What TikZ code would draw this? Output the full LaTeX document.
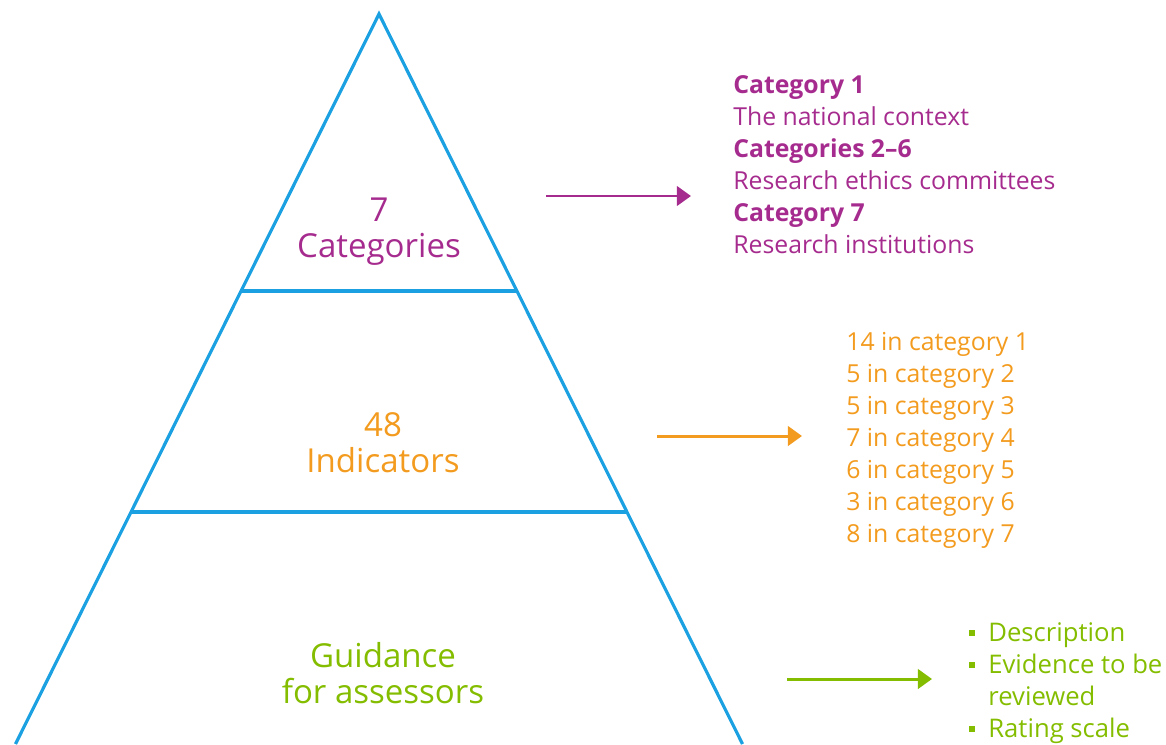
\documentclass[tikz,border=0pt]{standalone}
\usepackage{fontspec}
\setmainfont{Open Sans}
\usetikzlibrary{arrows.meta}
\usetikzlibrary{positioning}
\definecolor{pyramid}{HTML}{1BA1E2}
\definecolor{catcol}{HTML}{A62B8E}
\definecolor{indcol}{HTML}{F39B1E}
\definecolor{guidecol}{HTML}{84BD00}
\newcommand{\sqbullet}{\makebox[10.8pt][l]{\raisebox{0.22em}{\rule{3pt}{3pt}}}}

\tikzset{
  level/.style={align=center, font=\fontsize{18.8}{20.5}\selectfont},
  detail/.style={align=left, anchor=west, inner sep=0pt, font=\fontsize{14.1}{18.2}\selectfont},
  pointer/.style={line width=1.7pt, -{Triangle[length=8pt,width=11pt]}},
  side/.style={pyramid, line width=1.8pt},
}

\begin{document}
\begin{tikzpicture}[x=0.02cm, y=-0.02cm]
     \useasboundingbox (0,0) rectangle (1166,744);
     \coordinate (apex) at (379,14);
     \coordinate (botl) at (15.5,744);
     \coordinate (botr) at (742.5,744);
     \draw[side] (botl) -- (apex) -- (botr);
     \draw[side] (241,291) -- (517,291);
     \draw[side] (131,512) -- (627,512);

     \node[level, text=catcol] (cats) at (379,232) {7\\Categories};
     \node[level, text=indcol] (inds) at (383,443) {48\\Indicators};
     \node[level, text=guidecol] (guide) at (383,673) {Guidance\\for assessors};

     \node[detail, text=catcol] (catlist) at (733,164.5) {\textbf{Category 1}\\The national context\\\textbf{Categories 2–6}\\Research ethics committees\\\textbf{Category 7}\\Research institutions};
     \node[detail, text=indcol] (indlist) at (846,440) {14 in category 1\\5 in category 2\\5 in category 3\\7 in category 4\\6 in category 5\\3 in category 6\\8 in category 7};
     \node[detail, text=guidecol, font=\fontsize{14.6}{18.2}\selectfont] (guidelist) at (969,683) {\sqbullet Description\\\sqbullet Evidence to be\\\hphantom{\sqbullet}reviewed\\\sqbullet Rating scale};

     \coordinate (catfrom) at (546,196);
     \coordinate (catto) at (691,196);
     \coordinate (indfrom) at (657,436);
     \coordinate (indto) at (802,436);
     \coordinate (guidefrom) at (787,679);
     \coordinate (guideto) at (932,679);
     \draw[pointer, catcol] (catfrom) -- (catto);
     \draw[pointer, indcol] (indfrom) -- (indto);
     \draw[pointer, guidecol] (guidefrom) -- (guideto);
\end{tikzpicture}
\end{document}
